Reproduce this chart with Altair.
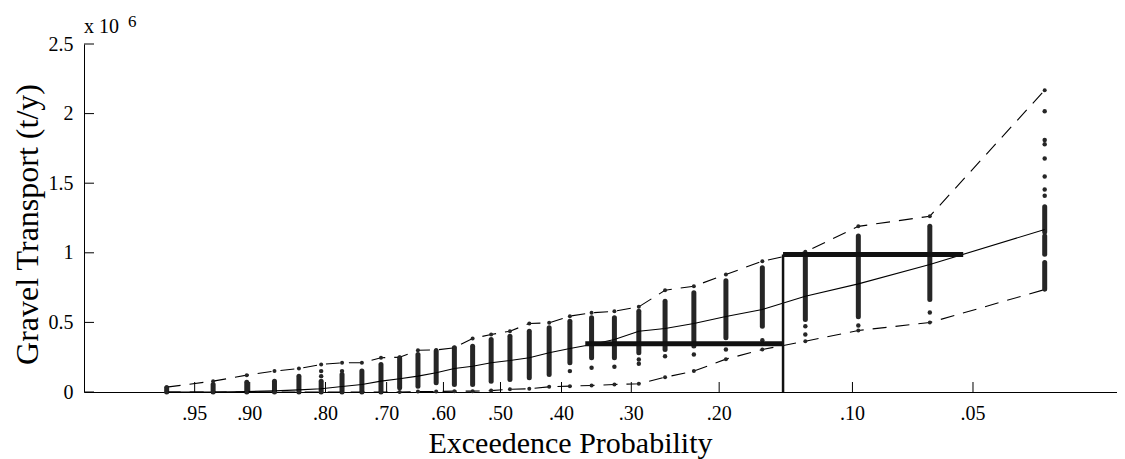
import altair as alt
import pandas as pd
from statistics import NormalDist

# ---- data (values in units of 10^6 t/y) ----
# exceedance probability (plotting position) of each column of simulated values
col_p = [0.0323, 0.0645, 0.0968, 0.1290, 0.1613, 0.1935, 0.2258, 0.2581, 0.2903, 0.3226,
         0.3548, 0.3871, 0.4194, 0.4516, 0.4839, 0.5161, 0.5484, 0.5806, 0.6129, 0.6452,
         0.6774, 0.7097, 0.7419, 0.7742, 0.8065, 0.8387, 0.8710, 0.9032, 0.9355, 0.9677]
upper = [2.168, 1.263, 1.19, 1.007, 0.94, 0.844, 0.76, 0.731, 0.612, 0.58,
         0.569, 0.545, 0.497, 0.492, 0.437, 0.413, 0.385, 0.318, 0.302, 0.30,
         0.25, 0.246, 0.21, 0.21, 0.198, 0.169, 0.150, 0.121, 0.078, 0.035]
lower = [0.736, 0.499, 0.442, 0.365, 0.305, 0.236, 0.150, 0.106, 0.059, 0.054,
         0.047, 0.042, 0.037, 0.023, 0.020, 0.010, 0.006, 0.006, 0.004, 0.003,
         0.0, 0.0, 0.0, 0.0, 0.0, 0.0, 0.0, 0.0, 0.0, 0.0]
median = [1.167, 0.916, 0.777, 0.688, 0.593, 0.543, 0.492, 0.456, 0.437, 0.377,
          0.341, 0.313, 0.282, 0.246, 0.226, 0.21, 0.185, 0.169, 0.138, 0.114,
          0.095, 0.078, 0.054, 0.040, 0.023, 0.015, 0.008, 0.003, 0.0, 0.0]
dense_lo = [0.74, 0.665, 0.54, 0.52, 0.473, 0.39, 0.33, 0.305, 0.282, 0.246,
            0.246, 0.21, 0.126, 0.102, 0.090, 0.078, 0.054, 0.054, 0.066, 0.042,
            0.030, 0.0, 0.0, 0.0, 0.0, 0.0, 0.0, 0.0, 0.0, 0.0]
dense_hi = [0.93, 1.19, 1.12, 0.988, 0.892, 0.80, 0.713, 0.652, 0.58, 0.533,
            0.533, 0.509, 0.461, 0.437, 0.401, 0.377, 0.329, 0.318, 0.295, 0.27,
            0.245, 0.198, 0.15, 0.126, 0.078, 0.114, 0.078, 0.07, 0.054, 0.03]
# extra dense clusters (column number, low, high)
extra_col = [1, 1]
extra_lo = [0.99, 1.15]
extra_hi = [1.12, 1.33]
# isolated simulated values (column number, value)
dot_col = [1, 1, 1, 1, 1, 1, 1, 2, 3, 4, 4, 5, 6, 7, 8, 9, 9, 10, 11, 12, 24, 25, 25]
dot_val = [1.41, 1.455, 1.548, 1.677, 1.78, 1.81, 2.017, 0.571, 0.478, 0.473, 0.413,
           0.372, 0.305, 0.269, 0.257, 0.233, 0.203, 0.181, 0.174, 0.150, 0.15, 0.114, 0.15]
# thick step estimate
step_p_from = [0.364, 0.145]
step_p_to = [0.145, 0.053]
step_val = [0.346, 0.988]
vert_p = [0.145]
vert_top = [0.988]
# axes
tick_p = [0.95, 0.90, 0.80, 0.70, 0.60, 0.50, 0.40, 0.30, 0.20, 0.10, 0.05]
tick_lbl = [".95", ".90", ".80", ".70", ".60", ".50", ".40", ".30", ".20", ".10", ".05"]
y_ticks = [0, 0.5, 1, 1.5, 2, 2.5]

# ---- probability-paper transform (Pearson III frequency factor) ----
G = 0.78
def kfac(p):
    z = NormalDist().inv_cdf(1 - p)
    return (2 / G) * ((1 + G * z / 6 - G * G / 36) ** 3 - 1)
K0 = kfac(0.5)
def xk(p):
    return kfac(p) - K0

W, H = 1033, 348
FONT = "Liberation Serif"
xscale = alt.Scale(domain=[-1.7282, 2.5581], nice=False, zero=False)
yscale = alt.Scale(domain=[0, 2.5], nice=False, zero=False)
x_axis = alt.Axis(labels=False, ticks=False, grid=False, domain=True, domainColor="black",
                  domainWidth=1, title="Exceedence Probability", titleFont=FONT,
                  titleFontSize=30, titleFontWeight="normal", titleX=486, titleY=60,
                  titleBaseline="alphabetic", titleAlign="center", titleColor="black")
y_axis = alt.Axis(values=y_ticks, ticks=False, grid=False, domain=True, domainColor="black",
                  domainWidth=1, labelFont=FONT, labelFontSize=20, labelColor="black",
                  labelPadding=11, labelExpr="'' + datum.value",
                  title="Gravel Transport (t/y)", titleFont=FONT, titleFontSize=32,
                  titleFontWeight="normal", titlePadding=4, titleY=180, titleColor="black")

def X(f):
    return alt.X(f, type="quantitative", scale=xscale, axis=x_axis)
def Y(f):
    return alt.Y(f, type="quantitative", scale=yscale, axis=y_axis)

cols = pd.DataFrame({
    "xk": [xk(p) for p in col_p], "upper": upper, "lower": lower, "median": median,
    "lo": dense_lo, "hi": dense_hi,
})
extra = pd.DataFrame({"xk": [xk(col_p[c - 1]) for c in extra_col], "lo": extra_lo, "hi": extra_hi})
dots = pd.DataFrame({"xk": [xk(col_p[c - 1]) for c in dot_col], "v": dot_val})
steps = pd.DataFrame({"xa": [xk(p) for p in step_p_from], "xb": [xk(p) for p in step_p_to], "v": step_val})
vert = pd.DataFrame({"xk": [xk(p) for p in vert_p], "lo": [0.0], "hi": vert_top})
ticks = pd.DataFrame({"xk": [xk(p) for p in tick_p], "lbl": tick_lbl})
yt = pd.DataFrame({"v": y_ticks})

DOT = "#262626"
dense = alt.Chart(cols).mark_rule(strokeWidth=5, strokeCap="round", color=DOT).encode(
    x=X("xk"), y=Y("lo"), y2="hi")
dense2 = alt.Chart(extra).mark_rule(strokeWidth=5, strokeCap="round", color=DOT).encode(
    x=X("xk"), y=Y("lo"), y2="hi")
isolated = alt.Chart(dots).mark_circle(size=20, opacity=1, color=DOT).encode(x=X("xk"), y=Y("v"))

up_line = alt.Chart(cols).mark_line(strokeDash=[14, 9], strokeWidth=1.1, color="black").encode(
    x=X("xk"), y=Y("upper"))
up_pts = alt.Chart(cols).mark_circle(size=16, opacity=1, color=DOT).encode(x=X("xk"), y=Y("upper"))
lo_line = alt.Chart(cols).mark_line(strokeDash=[14, 9], strokeWidth=1.1, color="black").encode(
    x=X("xk"), y=Y("lower"))
lo_pts = alt.Chart(cols).mark_circle(size=16, opacity=1, color=DOT).encode(x=X("xk"), y=Y("lower"))
med = alt.Chart(cols).mark_line(strokeWidth=1.1, color="black").encode(x=X("xk"), y=Y("median"))

step_h = alt.Chart(steps).mark_rule(strokeWidth=5, color="#111111").encode(
    x=X("xa"), x2="xb", y=Y("v"))
step_v = alt.Chart(vert).mark_rule(strokeWidth=2.5, color="#111111").encode(
    x=X("xk"), y=Y("lo"), y2="hi")

xtick_marks = alt.Chart(ticks).mark_rule(strokeWidth=1, color="black").encode(
    x=X("xk"), y=alt.value(H), y2=alt.value(H - 10))
xtick_lbls = alt.Chart(ticks).mark_text(font=FONT, fontSize=20, color="black", align="center",
                                        baseline="alphabetic").encode(
    x=X("xk"), y=alt.value(H + 28), text="lbl:N")
ytick_marks = alt.Chart(yt).mark_rule(strokeWidth=1, color="black").encode(
    y=Y("v"), x=alt.value(0), x2=alt.value(10))

mult = alt.Chart(pd.DataFrame({"t": ["x 10"]})).mark_text(
    font=FONT, fontSize=20, color="black", align="left", baseline="alphabetic").encode(
    x=alt.value(0), y=alt.value(-11), text="t:N")
expo = alt.Chart(pd.DataFrame({"t": ["6"]})).mark_text(
    font=FONT, fontSize=17, color="black", align="left", baseline="alphabetic").encode(
    x=alt.value(44), y=alt.value(-17), text="t:N")

chart = alt.layer(
    dense, dense2, isolated, med, up_line, up_pts, lo_line, lo_pts,
    step_h, step_v, xtick_marks, xtick_lbls, ytick_marks, mult, expo
).properties(
    width=W, height=H,
    autosize=alt.AutoSizeParams(type="none"),
    padding={"left": 76, "top": 36, "right": 0, "bottom": 70},
    background="white",
).configure_view(stroke=None)

chart.save("out.html", embed_options={"renderer": "svg", "actions": False})
